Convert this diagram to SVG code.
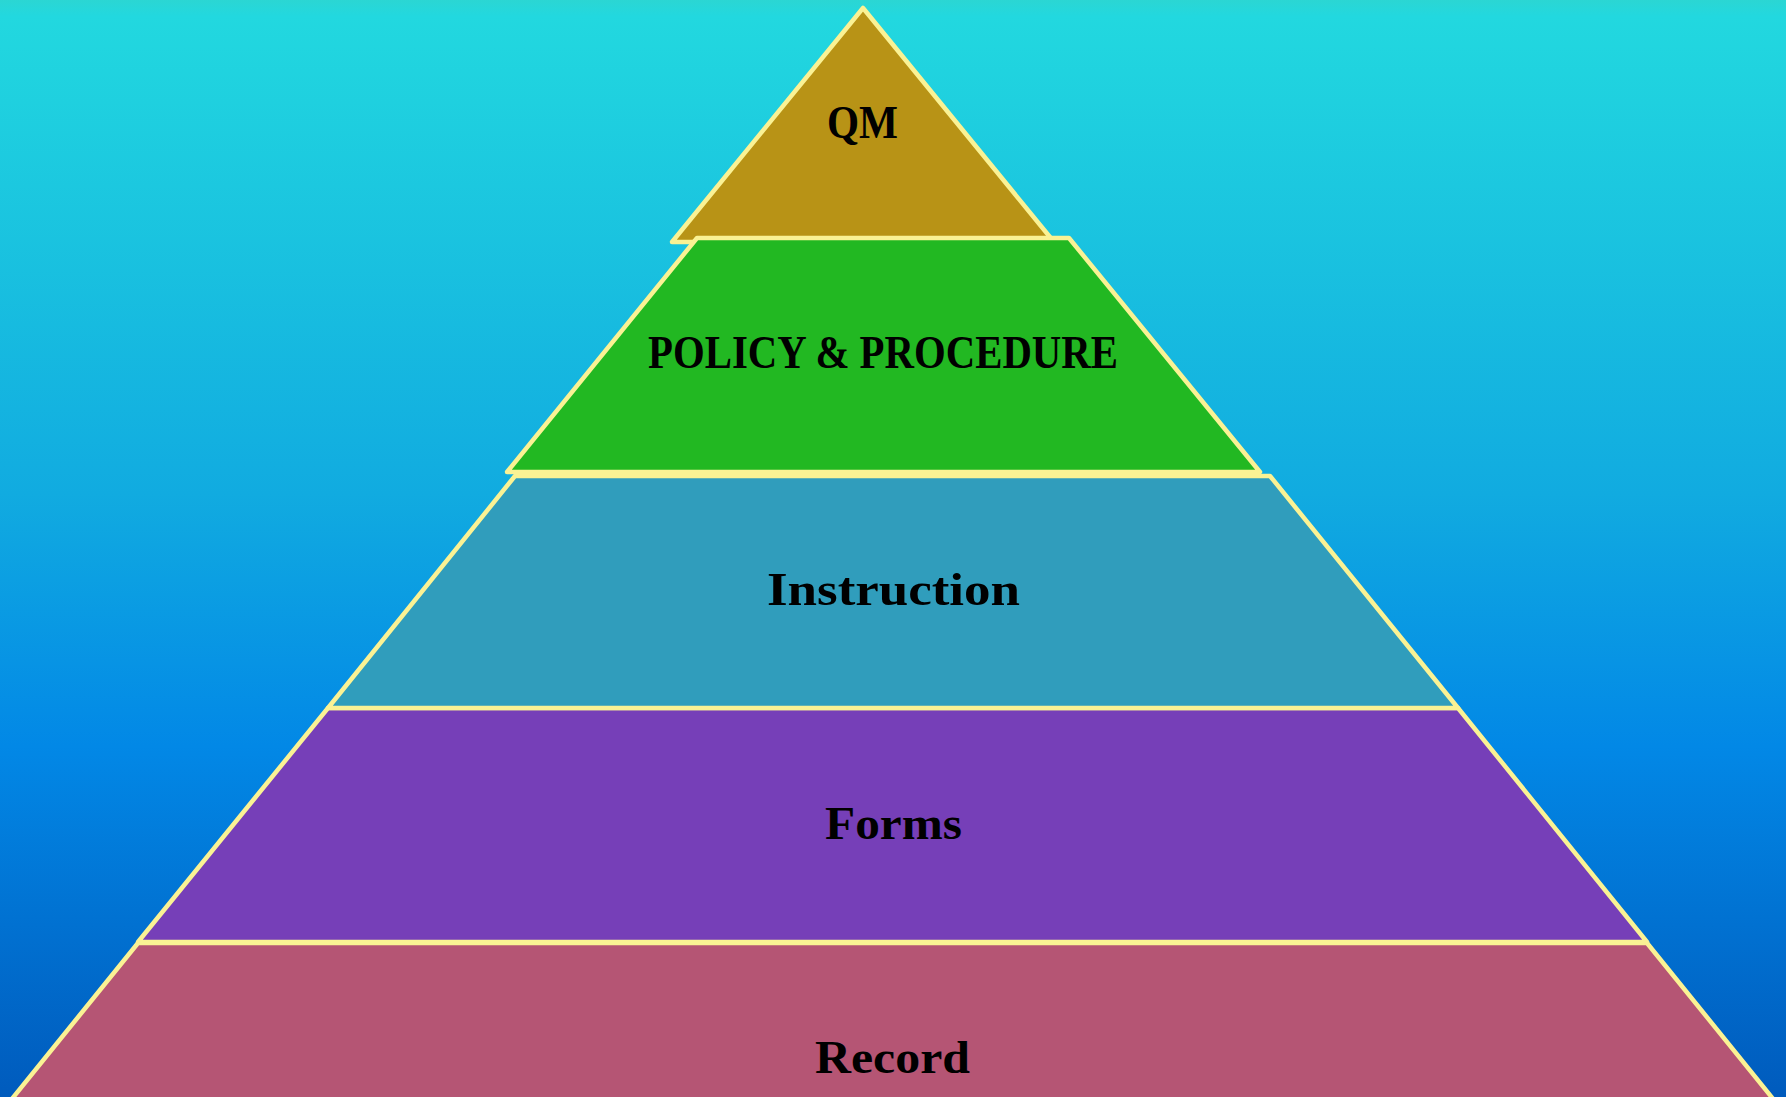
<svg xmlns="http://www.w3.org/2000/svg" width="1786" height="1097" viewBox="0 0 1786 1097">
  <defs>
    <linearGradient id="sky" x1="0" y1="0" x2="0" y2="1">
      <stop offset="0" stop-color="#2BD6D3"/>
      <stop offset="0.015" stop-color="#22D8DF"/>
      <stop offset="0.45" stop-color="#11ABE0"/>
      <stop offset="0.68" stop-color="#0288E6"/>
      <stop offset="1" stop-color="#005BBD"/>
    </linearGradient>
  </defs>
  <style>
    .tier { stroke: #FAF294; stroke-width: 4.5; stroke-linejoin: round; }
    .label { font-family: "Liberation Serif", "DejaVu Serif", serif; font-weight: bold; font-size: 46px; fill: #000; text-anchor: middle; }
  </style>

  <rect x="0" y="0" width="1786" height="1097" fill="url(#sky)"/>

  <g id="tier-qm">
    <polygon class="tier" fill="#B89316" points="863,8 1054,242 672,242"/>
    <text class="label" x="862.5" y="138" textLength="71" lengthAdjust="spacingAndGlyphs">QM</text>
  </g>

  <g id="tier-record">
    <polygon class="tier" fill="#B55574" points="138,943 1647,943 1837,1178 -52,1178"/>
    <text class="label" x="892.5" y="1073" textLength="155" lengthAdjust="spacingAndGlyphs">Record</text>
  </g>

  <g id="tier-forms">
    <polygon class="tier" fill="#763FB8" points="328,708 1458,708 1647,942 138,942"/>
    <text class="label" x="893.5" y="839" textLength="137" lengthAdjust="spacingAndGlyphs">Forms</text>
  </g>

  <g id="tier-instruction">
    <polygon class="tier" fill="#309DBC" points="515,476 1270,476 1458,708 328,708"/>
    <text class="label" x="893.5" y="605" textLength="253" lengthAdjust="spacingAndGlyphs">Instruction</text>
  </g>

  <g id="tier-policy">
    <polygon class="tier" fill="#22B822" points="697,238 1069,238 1260,472 507,472"/>
    <text class="label" x="883" y="368" textLength="470" lengthAdjust="spacingAndGlyphs">POLICY &amp; PROCEDURE</text>
  </g>
</svg>
